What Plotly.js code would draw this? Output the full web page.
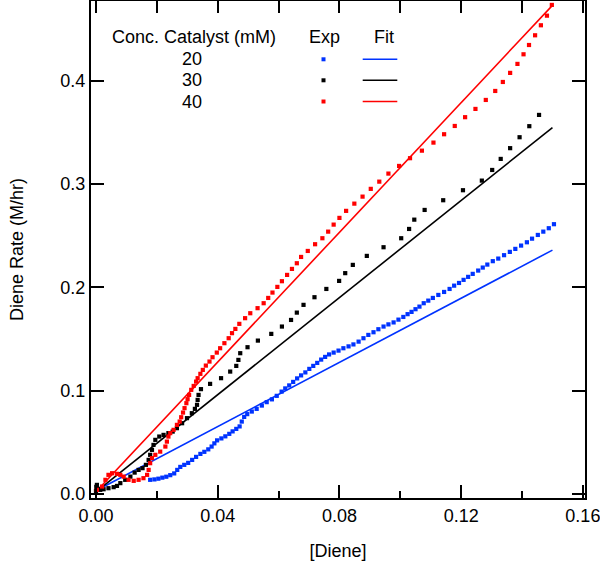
<!DOCTYPE html>
<html>
<head>
<meta charset="utf-8">
<script src="https://cdn.plot.ly/plotly-3.0.1.min.js"></script>
<style>html,body{margin:0;padding:0;background:#fff;}#chart{width:600px;height:567px;}</style>
</head>
<body>
<div id="chart"></div>
<script>
// Catalyst concentrations (mM)
const concLabels = ["20", "30", "40"];

// Experimental data, 40 mM
const exp40X = [0.0003,0.0020,0.0031,0.0041,0.0053,0.0069,0.0080,0.0091,0.0107,0.0124,0.0140,0.0156,0.0168,0.0173,0.0178,0.0184,0.0195,0.0211,0.0228,0.0233,0.0238,0.0244,0.0255,0.0266,0.0275,0.0280,0.0286,0.0291,0.0297,0.0301,0.0306,0.0313,0.0321,0.0329,0.0334,0.0343,0.0351,0.0361,0.0373,0.0383,0.0397,0.0408,0.0422,0.0436,0.0447,0.0458,0.0471,0.0490,0.0507,0.0531,0.0551,0.0566,0.0580,0.0596,0.0611,0.0628,0.0644,0.0660,0.0674,0.0696,0.0720,0.0744,0.0763,0.0781,0.0800,0.0822,0.0849,0.0876,0.0903,0.0931,0.0961,0.0996,0.1032,0.1071,0.1109,0.1144,0.1179,0.1213,0.1247,0.1281,0.1312,0.1337,0.1361,0.1385,0.1405,0.1423,0.1443,0.1462,0.1482,0.1498];
const exp40Y = [0.0039,0.0071,0.0136,0.0184,0.0200,0.0194,0.0184,0.0167,0.0136,0.0126,0.0136,0.0152,0.0184,0.0232,0.0297,0.0346,0.0378,0.0409,0.0458,0.0506,0.0555,0.0588,0.0620,0.0668,0.0700,0.0742,0.0787,0.0830,0.0878,0.0917,0.0958,0.1007,0.1045,0.1087,0.1120,0.1162,0.1200,0.1242,0.1281,0.1323,0.1368,0.1410,0.1459,0.1507,0.1556,0.1597,0.1646,0.1701,0.1749,0.1798,0.1846,0.1897,0.1949,0.2004,0.2059,0.2120,0.2178,0.2233,0.2294,0.2352,0.2417,0.2475,0.2539,0.2607,0.2672,0.2740,0.2810,0.2878,0.2953,0.3023,0.3101,0.3175,0.3250,0.3323,0.3401,0.3482,0.3562,0.3647,0.3727,0.3814,0.3901,0.3988,0.4076,0.4163,0.4256,0.4346,0.4440,0.4537,0.4630,0.4734];

// Experimental data, 30 mM
const exp30X = [0.0000,0.0001,0.0003,0.0008,0.0014,0.0025,0.0041,0.0058,0.0069,0.0080,0.0096,0.0113,0.0127,0.0140,0.0153,0.0164,0.0173,0.0178,0.0184,0.0189,0.0195,0.0208,0.0222,0.0238,0.0252,0.0266,0.0283,0.0299,0.0315,0.0325,0.0332,0.0334,0.0337,0.0345,0.0375,0.0411,0.0441,0.0461,0.0468,0.0474,0.0498,0.0532,0.0576,0.0611,0.0641,0.0660,0.0682,0.0718,0.0757,0.0799,0.0819,0.0844,0.0890,0.0945,0.1003,0.1029,0.1046,0.1080,0.1141,0.1206,0.1268,0.1302,0.1330,0.1361,0.1392,0.1424,0.1456];
const exp30Y = [0.0029,0.0068,0.0087,0.0048,0.0039,0.0045,0.0055,0.0065,0.0077,0.0104,0.0136,0.0167,0.0206,0.0232,0.0249,0.0281,0.0329,0.0378,0.0426,0.0474,0.0523,0.0555,0.0571,0.0588,0.0603,0.0636,0.0684,0.0733,0.0781,0.0823,0.0862,0.0910,0.0958,0.1014,0.1065,0.1120,0.1184,0.1239,0.1297,0.1362,0.1420,0.1484,0.1549,0.1620,0.1684,0.1755,0.1830,0.1904,0.1984,0.2062,0.2137,0.2217,0.2304,0.2388,0.2475,0.2565,0.2655,0.2749,0.2843,0.2940,0.3033,0.3136,0.3243,0.3347,0.3453,0.3560,0.3669];

// Experimental data, 20 mM
const exp20X = [0.0178,0.0192,0.0205,0.0218,0.0231,0.0244,0.0257,0.0267,0.0277,0.0290,0.0303,0.0316,0.0329,0.0343,0.0356,0.0369,0.0380,0.0389,0.0398,0.0412,0.0425,0.0438,0.0449,0.0461,0.0472,0.0479,0.0487,0.0497,0.0512,0.0528,0.0545,0.0561,0.0578,0.0594,0.0610,0.0622,0.0635,0.0648,0.0661,0.0674,0.0688,0.0701,0.0714,0.0727,0.0740,0.0753,0.0766,0.0781,0.0797,0.0813,0.0830,0.0846,0.0863,0.0879,0.0895,0.0912,0.0928,0.0945,0.0961,0.0978,0.0994,0.1010,0.1024,0.1037,0.1050,0.1063,0.1077,0.1092,0.1107,0.1125,0.1144,0.1162,0.1177,0.1193,0.1208,0.1223,0.1238,0.1256,0.1271,0.1286,0.1304,0.1322,0.1341,0.1360,0.1378,0.1397,0.1416,0.1433,0.1452,0.1470,0.1488,0.1505];
const exp20Y = [0.0136,0.0140,0.0147,0.0157,0.0166,0.0181,0.0198,0.0232,0.0261,0.0281,0.0300,0.0329,0.0358,0.0387,0.0407,0.0431,0.0458,0.0489,0.0518,0.0537,0.0557,0.0581,0.0605,0.0629,0.0653,0.0700,0.0745,0.0772,0.0797,0.0823,0.0855,0.0888,0.0915,0.0949,0.0990,0.1021,0.1050,0.1084,0.1118,0.1147,0.1176,0.1210,0.1239,0.1268,0.1300,0.1326,0.1350,0.1368,0.1387,0.1410,0.1428,0.1447,0.1474,0.1507,0.1539,0.1565,0.1594,0.1620,0.1641,0.1660,0.1687,0.1713,0.1740,0.1762,0.1788,0.1813,0.1846,0.1871,0.1897,0.1926,0.1955,0.1984,0.2016,0.2042,0.2072,0.2101,0.2130,0.2162,0.2191,0.2220,0.2253,0.2278,0.2311,0.2343,0.2372,0.2404,0.2436,0.2471,0.2507,0.2539,0.2572,0.2611];

// Linear fits
const fitX = [0.0, 0.15];
const fit20Y = [0.003, 0.236];
const fit30Y = [0.002, 0.3546];
const fit40Y = [0.002, 0.473];

const colors = ["#0033ff", "#000000", "#ff0000"];
const FONT = "Liberation Sans, Arial, sans-serif";
const FS = 18;

const xRange = [-0.00164, 0.1607];
const yRange = [-0.004, 0.4772];

function expTrace(x, y, c) {
  return {x: x, y: y, type: "scatter", mode: "markers", showlegend: false, hoverinfo: "skip",
          marker: {symbol: "square", size: 4.2, color: c, line: {width: 0}}};
}
function fitTrace(x, y, c) {
  return {x: x, y: y, type: "scatter", mode: "lines", showlegend: false, hoverinfo: "skip",
          line: {color: c, width: 1.6}};
}

const data = [
  fitTrace(fitX, fit20Y, colors[0]),
  fitTrace(fitX, fit30Y, colors[1]),
  fitTrace(fitX, fit40Y, colors[2]),
  expTrace(exp20X, exp20Y, colors[0]),
  expTrace(exp30X, exp30Y, colors[1]),
  expTrace(exp40X, exp40Y, colors[2]),
  {x: [], y: [], type: "scatter", mode: "markers", xaxis: "x2", yaxis: "y2", showlegend: false, hoverinfo: "skip"}
];

// legend geometry in paper units (plot area: 494 x 497 px)
const PW = 494, PH = 497;
const px2x = p => (p - 91) / PW;
const px2y = p => (498 - p) / PH;
const rowY = [59.3, 80.3, 101.5];

const annotations = [
  {text: "Conc. Catalyst (mM)", x: px2x(193.8), y: px2y(37.5), xref: "paper", yref: "paper", showarrow: false, xanchor: "center", yanchor: "middle", font: {family: FONT, size: FS, color: "#000"}},
  {text: "Exp", x: px2x(324.5), y: px2y(37.5), xref: "paper", yref: "paper", showarrow: false, xanchor: "center", yanchor: "middle", font: {family: FONT, size: FS, color: "#000"}},
  {text: "Fit", x: px2x(384), y: px2y(37.5), xref: "paper", yref: "paper", showarrow: false, xanchor: "center", yanchor: "middle", font: {family: FONT, size: FS, color: "#000"}}
];
const shapes = [];
concLabels.forEach((lab, i) => {
  annotations.push({text: lab, x: px2x(191.7), y: px2y(rowY[i]), xref: "paper", yref: "paper", showarrow: false, xanchor: "center", yanchor: "middle", font: {family: FONT, size: FS, color: "#000"}});
  shapes.push({type: "rect", xref: "paper", yref: "paper", x0: px2x(321.5), x1: px2x(325.5), y0: px2y(rowY[i] - 2), y1: px2y(rowY[i] + 2), fillcolor: colors[i], line: {width: 0}});
  shapes.push({type: "line", xref: "paper", yref: "paper", x0: px2x(362.7), x1: px2x(397.3), y0: px2y(rowY[i]), y1: px2y(rowY[i]), line: {color: colors[i], width: 1.6}});
});

const axCommon = {showgrid: false, zeroline: false, showline: true, linecolor: "#000", linewidth: 2,
                  ticks: "inside", tickcolor: "#000", tickwidth: 2, ticklen: 13,
                  ticklabeloverflow: "allow",
                  tickfont: {family: FONT, size: FS, color: "#000"}};

const layout = {
  width: 600, height: 567,
  margin: {l: 91, r: 15, t: 1, b: 69, pad: 0},
  paper_bgcolor: "#fff", plot_bgcolor: "#fff",
  showlegend: false,
  font: {family: FONT, size: FS, color: "#000"},
  xaxis: Object.assign({}, axCommon, {
    range: xRange, tick0: 0, dtick: 0.04, tickformat: ".2f", mirror: true,
    minor: {dtick: 0.02, tick0: 0, ticks: "inside", ticklen: 7, tickwidth: 2, tickcolor: "#000"},
    title: {text: "[Diene]", font: {family: FONT, size: FS}, standoff: 20}
  }),
  yaxis: Object.assign({}, axCommon, {
    range: yRange, tick0: 0, dtick: 0.1, tickformat: ".1f", mirror: true,
    title: {text: "Diene Rate (M/hr)", font: {family: FONT, size: FS}, standoff: 32}
  }),
  xaxis2: {overlaying: "x", side: "top", anchor: "y2", range: xRange, tick0: 0, dtick: 0.02,
           showgrid: false, zeroline: false, showline: false, showticklabels: false,
           ticks: "inside", ticklen: 12, tickwidth: 2, tickcolor: "#000"},
  yaxis2: {overlaying: "y", side: "right", anchor: "x2", range: yRange, tick0: 0, dtick: 0.1,
           showgrid: false, zeroline: false, showline: false, showticklabels: false,
           ticks: "inside", ticklen: 13, tickwidth: 2, tickcolor: "#000"},
  annotations: annotations,
  shapes: shapes
};

Plotly.newPlot("chart", data, layout, {staticPlot: true, displayModeBar: false});
</script>
</body>
</html>
